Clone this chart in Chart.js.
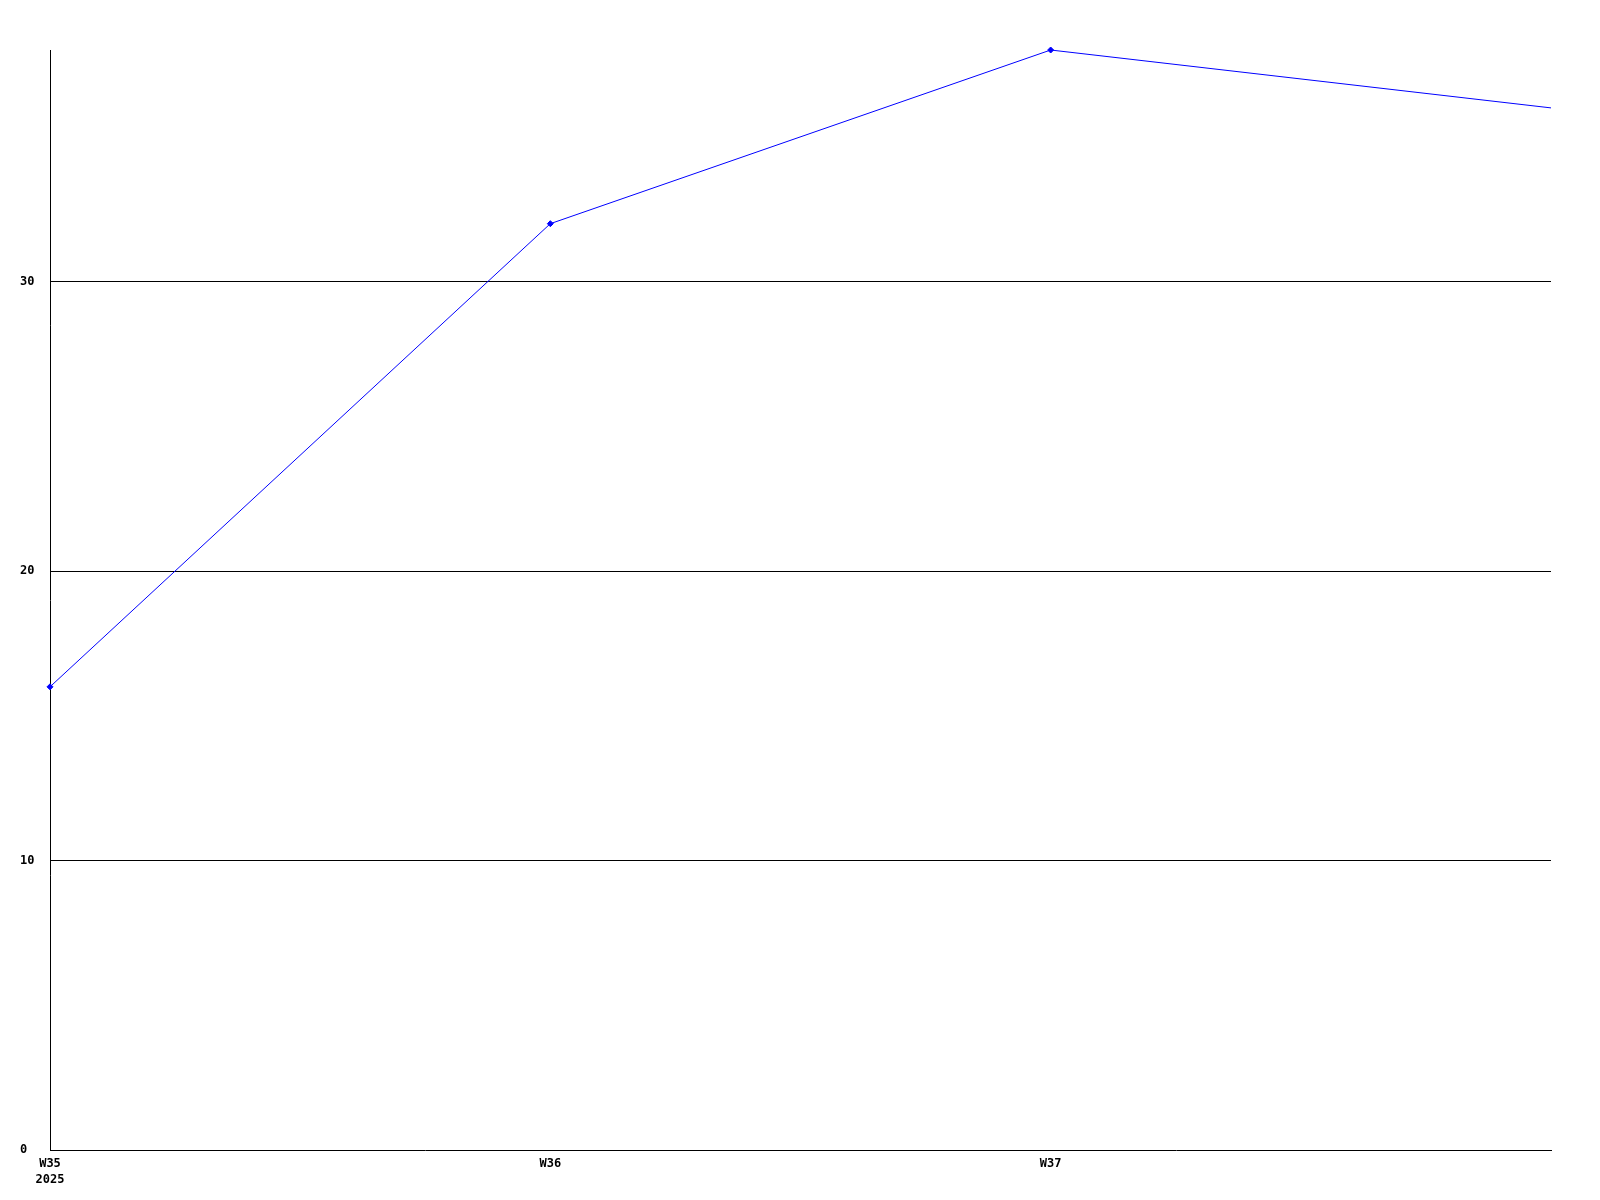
<!DOCTYPE html>
<html>
<head>
<meta charset="utf-8">
<script src="https://cdn.jsdelivr.net/npm/chart.js@4/dist/chart.umd.min.js"></script>
<style>
  html, body { margin: 0; padding: 0; background: #ffffff; }
  #wrap { width: 1600px; height: 1200px; }
</style>
</head>
<body>
<div id="wrap"><canvas id="c" width="1600" height="1200"></canvas></div>
<script>
const weekLabels = ["W35", "W36", "W37", "W38"];
const yearLabel = "2025";
const seriesValues = [16, 32, 38, 36];
const yTickValues = [0, 10, 20, 30];

const font = { family: "'DejaVu Sans Mono', 'Liberation Mono', monospace", size: 12, weight: 'bold', lineHeight: 1.35 };

new Chart(document.getElementById('c'), {
  type: 'line',
  data: {
    labels: weekLabels,
    datasets: [{
      data: seriesValues,
      borderColor: '#0000ff',
      backgroundColor: '#0000ff',
      borderWidth: 1,
      pointStyle: 'rectRot',
      pointRadius: [3, 3, 3, 0],
      pointBorderWidth: 1,
      tension: 0,
      fill: false,
      clip: false
    }]
  },
  options: {
    responsive: false,
    animation: false,
    devicePixelRatio: 1,
    layout: { padding: { left: 20, right: 49, top: 50, bottom: 0 } },
    plugins: { legend: { display: false }, tooltip: { enabled: false } },
    scales: {
      x: {
        type: 'category',
        offset: false,
        grid: { display: false, drawTicks: false },
        border: { display: true, color: '#000000', width: 1 },
        ticks: {
          font: font,
          color: '#000000',
          padding: 6,
          autoSkip: false,
          maxRotation: 0,
          callback: function (v, i) {
            if (i === weekLabels.length - 1) return '';
            if (i === 0) return [weekLabels[i], yearLabel];
            return weekLabels[i];
          }
        },
        afterFit: function (s) { s.height = 50; }
      },
      y: {
        min: 0,
        max: 38,
        grid: {
          drawTicks: false,
          color: function (ctx) { return ctx.tick && ctx.tick.value === 0 ? 'rgba(0,0,0,0)' : '#000000'; },
          lineWidth: 1
        },
        border: { display: true, color: '#000000', width: 1 },
        afterBuildTicks: function (s) { s.ticks = yTickValues.map(v => ({ value: v })); },
        ticks: {
          font: font,
          color: '#000000',
          crossAlign: 'far',
          padding: 4
        },
        afterFit: function (s) { s.width = 30; }
      }
    }
  }
});
</script>
</body>
</html>
